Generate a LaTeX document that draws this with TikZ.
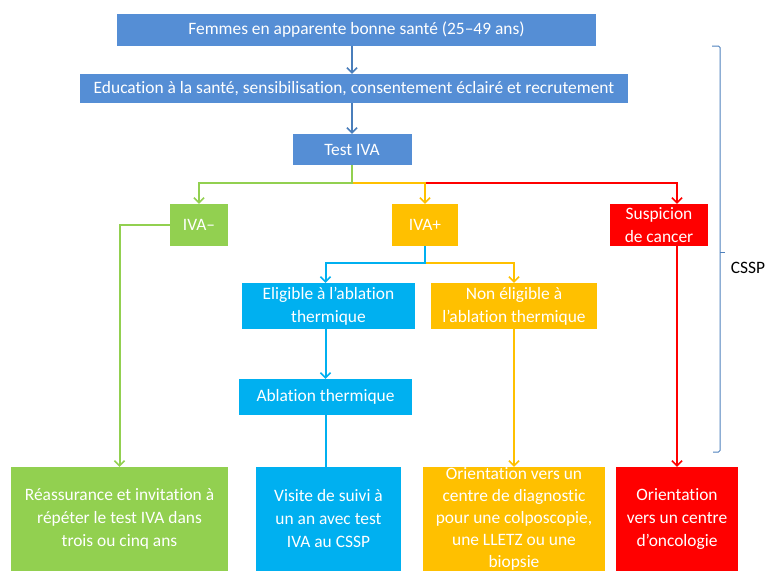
\documentclass[tikz,border=0pt]{standalone}
\usepackage{fontspec}
\setmainfont{Carlito}[Ligatures=NoCommon]
\usetikzlibrary{arrows.meta,calc}
\definecolor{boxblue}{RGB}{85,142,213}
\definecolor{lineblue}{RGB}{74,126,187}
\definecolor{bgreen}{RGB}{146,208,80}
\definecolor{byellow}{RGB}{255,192,0}
\definecolor{bred}{RGB}{255,0,0}
\definecolor{bcyan}{RGB}{0,176,240}
\definecolor{brace}{RGB}{79,129,189}
\begin{document}
\begin{tikzpicture}[x=1pt,y=-1pt,
  box/.style={rectangle,inner sep=0pt,text=white,align=center,
    font=\fontsize{17.4}{23}\selectfont},
  conn/.style={line width=2pt},
  arr/.style={conn,-{Straight Barb[length=5pt,width=10pt,line width=1.6pt]}}]
\useasboundingbox (0,0) rectangle (765,571);
% top blue boxes
\node[box,fill=boxblue,minimum width=479pt,minimum height=32pt] (b1) at (356.5,30) {Femmes en apparente bonne santé (25–49 ans)};
\node[box,fill=boxblue,minimum width=548pt,minimum height=29pt] (b2) at (354,88.5) {Education à la santé, sensibilisation, consentement éclairé et recrutement};
\node[box,fill=boxblue,minimum width=119pt,minimum height=31pt] (b3) at (352,149.5) {Test IVA};
% second level
\node[box,fill=bgreen,minimum width=58pt,minimum height=42pt] (neg) at (199,225) {IVA–};
\node[box,fill=byellow,minimum width=66pt,minimum height=42pt] (pos) at (425,225) {IVA+};
\node[box,fill=bred,minimum width=98pt,minimum height=42pt] (sus) at (659,225) {Suspicion\\de cancer};
% third level
\node[box,fill=bcyan,minimum width=173pt,minimum height=46pt] (elig) at (328.5,306) {Eligible à l’ablation\\thermique};
\node[box,fill=byellow,minimum width=166pt,minimum height=46pt] (nonel) at (514,306) {Non éligible à\\l’ablation thermique};
\node[box,fill=bcyan,minimum width=173pt,minimum height=36pt] (abl) at (325.5,397) {Ablation thermique};
% bottom boxes
\node[box,fill=bgreen,minimum width=217pt,minimum height=104pt] (gb) at (119.5,519) {Réassurance et invitation à\\répéter le test IVA dans\\trois ou cinq ans};
\node[box,fill=bcyan,minimum width=145pt,minimum height=104pt] (vb) at (328.5,519) {Visite de suivi à\\un an avec test\\IVA au CSSP};
\node[box,fill=byellow,minimum width=182pt,minimum height=104pt,font=\fontsize{17.4}{22}\selectfont] (yb) at (514,519) {Orientation vers un\\centre de diagnostic\\pour une colposcopie,\\une LLETZ ou une\\biopsie};
\node[box,fill=bred,minimum width=122pt,minimum height=104pt] (rb) at (677,519) {Orientation\\vers un centre\\d’oncologie};
% connectors
\coordinate (split) at (b3.south |- 0,183);
\coordinate (split2) at (pos.south |- 0,263);
\draw[arr,lineblue] (b3 |- b1.south) -- (b3 |- b2.north);
\draw[arr,lineblue] (b3 |- b2.south) -- (b3.north);
\draw[arr,bred] (pos.north |- split) -| (sus.north -| rb.north);
\draw[arr,byellow] (split) -| (pos.north);
\draw[arr,bgreen] (b3.south) -- (split) -| (neg.north);
\draw[arr,bgreen] (neg.west) -| (gb.north);
\draw[arr,byellow] (split2) -| (nonel.north);
\draw[arr,bcyan] (pos.south) -- (split2) -| (abl.north |- elig.north);
\draw[arr,bcyan] (abl.north |- elig.south) -- (abl.north);
\draw[conn,bcyan] (abl.south) -- (abl.south |- vb.north);
\draw[arr,byellow] (nonel.south) -- (yb.north);
\draw[arr,bred] (rb.north |- sus.south) -- (rb.north);
% brace
\coordinate (bt) at (720,46);
\coordinate (bm) at (720,252);
\coordinate (bb) at (720,452);
\draw[brace,line width=1pt,rounded corners=1.5pt] (712,46) -- (bt) -- (bm) -- (bb) -- (713,452);
\draw[brace,line width=1pt] (bm) -- (725,252);
\node[font=\fontsize{17.4}{21.5}\selectfont,text=black,inner sep=0pt] (cssp) at (748,268) {CSSP};
\end{tikzpicture}
\end{document}
